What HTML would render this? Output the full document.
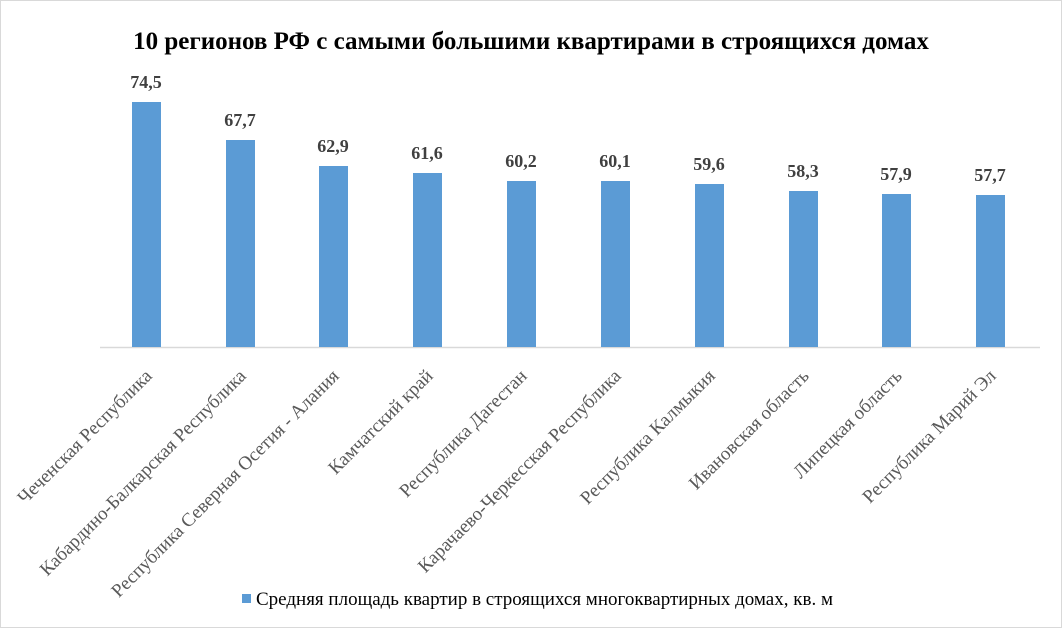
<!DOCTYPE html>
<html><head><meta charset="utf-8"><style>
html,body{margin:0;padding:0;background:#fff}
svg{display:block}
</style></head><body>
<svg width="1062" height="628" xmlns="http://www.w3.org/2000/svg" font-family="'Liberation Serif', serif">
<rect x="0.5" y="0.5" width="1061" height="627" fill="#fff" stroke="#d9d9d9"/>
<text x="531" y="49" text-anchor="middle" font-size="25" font-weight="bold" fill="#000">10 регионов  РФ с самыми большими квартирами  в строящихся домах</text>
<line x1="100" y1="347.5" x2="1040" y2="347.5" stroke="#d9d9d9" stroke-width="1.5"/>
<g fill="#5b9bd5">
<rect x="132" y="102" width="29" height="245"/>
<rect x="226" y="140" width="29" height="207"/>
<rect x="319" y="166" width="29" height="181"/>
<rect x="413" y="173" width="29" height="174"/>
<rect x="507" y="181" width="29" height="166"/>
<rect x="601" y="181" width="29" height="166"/>
<rect x="695" y="184" width="29" height="163"/>
<rect x="789" y="191" width="29" height="156"/>
<rect x="882" y="194" width="29" height="153"/>
<rect x="976" y="195" width="29" height="152"/>
</g>
<g font-size="18" font-weight="bold" fill="#404040" text-anchor="middle">
<text x="146" y="88">74,5</text>
<text x="240" y="126">67,7</text>
<text x="333" y="152">62,9</text>
<text x="427" y="159">61,6</text>
<text x="521" y="167">60,2</text>
<text x="615" y="167">60,1</text>
<text x="709" y="170">59,6</text>
<text x="803" y="177">58,3</text>
<text x="896" y="180">57,9</text>
<text x="990" y="181">57,7</text>
</g>
<g font-size="19" fill="#595959" text-anchor="end">
<text transform="translate(153,377) rotate(-45)">Чеченская Республика</text>
<text transform="translate(247,377) rotate(-45)">Кабардино-Балкарская Республика</text>
<text transform="translate(340,377) rotate(-45)">Республика Северная Осетия - Алания</text>
<text transform="translate(434,377) rotate(-45)">Камчатский край</text>
<text transform="translate(528,377) rotate(-45)">Республика Дагестан</text>
<text transform="translate(622,377) rotate(-45)">Карачаево-Черкесская Республика</text>
<text transform="translate(716,377) rotate(-45)">Республика Калмыкия</text>
<text transform="translate(810,377) rotate(-45)">Ивановская область</text>
<text transform="translate(903,377) rotate(-45)">Липецкая область</text>
<text transform="translate(997,377) rotate(-45)">Республика Марий Эл</text>
</g>
<rect x="242" y="594" width="9" height="9" fill="#5b9bd5"/>
<text x="256" y="605" font-size="19" fill="#000">Средняя площадь квартир в строящихся многоквартирных домах, кв. м</text>
</svg>
</body></html>
